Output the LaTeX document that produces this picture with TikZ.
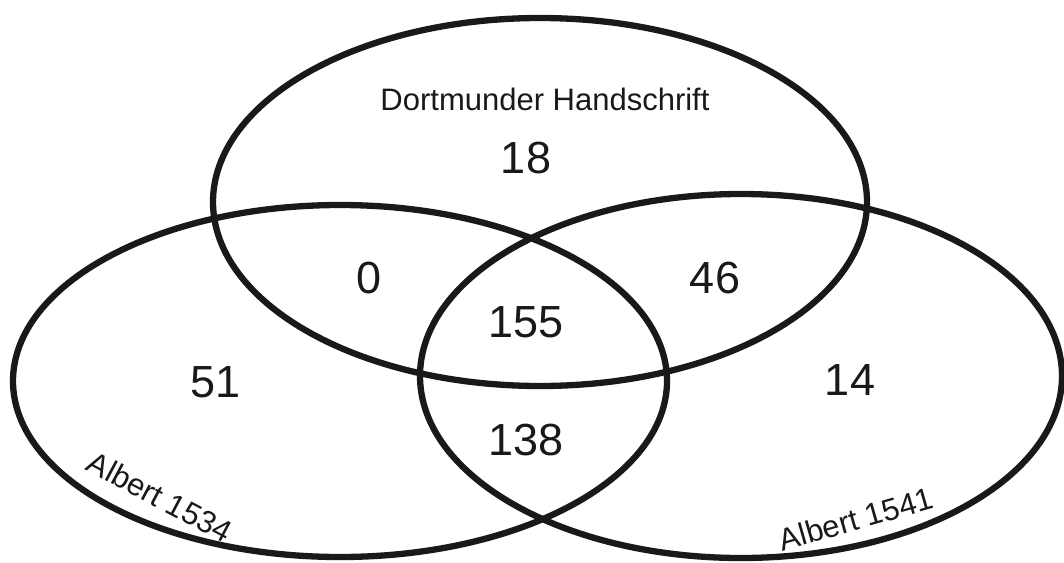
\documentclass[tikz,border=0pt]{standalone}
\usepackage{fontspec}
\setmainfont{Liberation Sans}
\begin{document}
\begin{tikzpicture}[x=1pt,y=-1pt,
  setline/.style={line width=6.3pt, black!90},
  num/.style={font=\fontsize{45}{54}\selectfont, anchor=base, inner sep=0pt, text=black!90},
  lab/.style={font=\fontsize{31}{37}\selectfont, inner sep=0pt, text=black!90}]
\useasboundingbox (0,0) rectangle (1064,562);
\fill[white] (0,0) rectangle (1064,562);
\coordinate (cT) at (540,202);
\coordinate (cL) at (340,381);
\coordinate (cR) at (741,376);
\draw[setline] (cT) ellipse [x radius=327pt, y radius=184pt];
\draw[setline] (cL) ellipse [x radius=327pt, y radius=176pt];
\draw[setline] (cR) ellipse [x radius=321pt, y radius=182pt];
\node[lab, anchor=base] (dh) at (545,110) {Dortmunder Handschrift};
\node[num] (n18) at (526,173) {18};
\node[num] (n0) at (369,293) {0};
\node[num] (n46) at (715,293) {46};
\node[num] (n155) at (526,337) {155};
\node[num] (n51) at (216,397) {51};
\node[num] (n14) at (850,395) {14};
\node[num] (n138) at (526,455) {138};
\node[lab, rotate=-28] (a1534) at (160,497) {Albert 1534};
\node[lab, rotate=16] (a1541) at (856,519) {Albert 1541};
\end{tikzpicture}
\end{document}
